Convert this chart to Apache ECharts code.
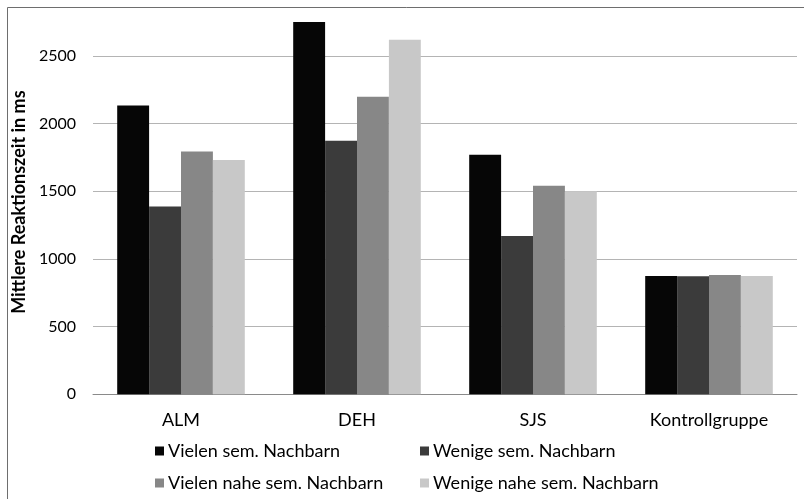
<!DOCTYPE html>
<html>
<head>
<meta charset="utf-8">
<script src="https://cdn.jsdelivr.net/npm/echarts@6/dist/echarts.min.js"></script>
<style>
  html, body { margin: 0; padding: 0; background: #ffffff; }
  #chart { width: 804px; height: 499px; }
</style>
</head>
<body>
<div id="chart"></div>
<script>
// Mittlere Reaktionszeit je Gruppe und Bedingung
const categories = ['ALM', 'DEH', 'SJS', 'Kontrollgruppe'];
const seriesNames = [
  'Vielen sem. Nachbarn',
  'Wenige sem. Nachbarn',
  'Vielen nahe sem. Nachbarn',
  'Wenige nahe sem. Nachbarn'
];
const vielenSem      = [2134, 2751, 1770, 874];
const wenigeSem      = [1387, 1873, 1169, 872];
const vielenNaheSem  = [1794, 2199, 1541, 881];
const wenigeNaheSem  = [1731, 2620, 1501, 875];
const yTicks = [0, 500, 1000, 1500, 2000, 2500];
const yMax = 2840;

const values = [vielenSem, wenigeSem, vielenNaheSem, wenigeNaheSem];
const colors = ['#060606', '#3b3b3b', '#878787', '#c8c8c8'];
const font = 'Lato, "Open Sans", sans-serif';

const chart = echarts.init(document.getElementById('chart'), null, { renderer: 'canvas' });

// one legend block per entry, laid out as a 2 x 2 table
const legendSlots = [[155, 442], [420, 442], [155, 474], [420, 474]];
const legends = seriesNames.map((name, i) => ({
  data: [name],
  left: legendSlots[i][0], top: legendSlots[i][1],
  itemWidth: 9, itemHeight: 9, itemGap: 0, icon: 'rect',
  padding: 0,
  textStyle: { fontFamily: font, fontSize: 18, color: '#000', padding: [0, 0, 0, -1] }
}));

chart.setOption({
  animation: false,
  backgroundColor: '#ffffff',
  graphic: [{
    type: 'rect',
    shape: { x: 7.5, y: 7.5, width: 900, height: 600 },
    style: { fill: 'none', stroke: '#6e6e6e', lineWidth: 1 },
    silent: true
  }],
  grid: { left: 93, right: 7, top: 10, bottom: 104.7, containLabel: false },
  legend: legends,
  xAxis: {
    type: 'category',
    data: categories,
    axisLine: { show: true, lineStyle: { color: '#8a8a8a', width: 1 } },
    axisTick: { show: false },
    axisLabel: { fontFamily: font, fontSize: 18, color: '#000', margin: 17 }
  },
  yAxis: {
    type: 'value',
    min: yTicks[0],
    max: yMax,
    interval: 500,
    name: 'Mittlere Reaktionszeit in ms',
    nameLocation: 'middle',
    nameRotate: 90,
    nameGap: 53,
    nameTextStyle: { fontFamily: font, fontSize: 18, fontWeight: 'bold', color: '#000' },
    axisLine: { show: false },
    axisTick: { show: false },
    axisLabel: {
      fontFamily: font, fontSize: 16, color: '#000', margin: 17,
      showMaxLabel: false,
      formatter: v => (yTicks.indexOf(v) >= 0 ? String(v) : '')
    },
    splitLine: { show: true, showMaxLine: false, lineStyle: { color: '#b4b4b4', width: 1 } }
  },
  series: seriesNames.map((name, i) => ({
    name: name,
    type: 'bar',
    data: values[i],
    barGap: '0%',
    barCategoryGap: '27.5%',
    itemStyle: { color: colors[i] },
    emphasis: { disabled: true }
  }))
});
</script>
</body>
</html>
